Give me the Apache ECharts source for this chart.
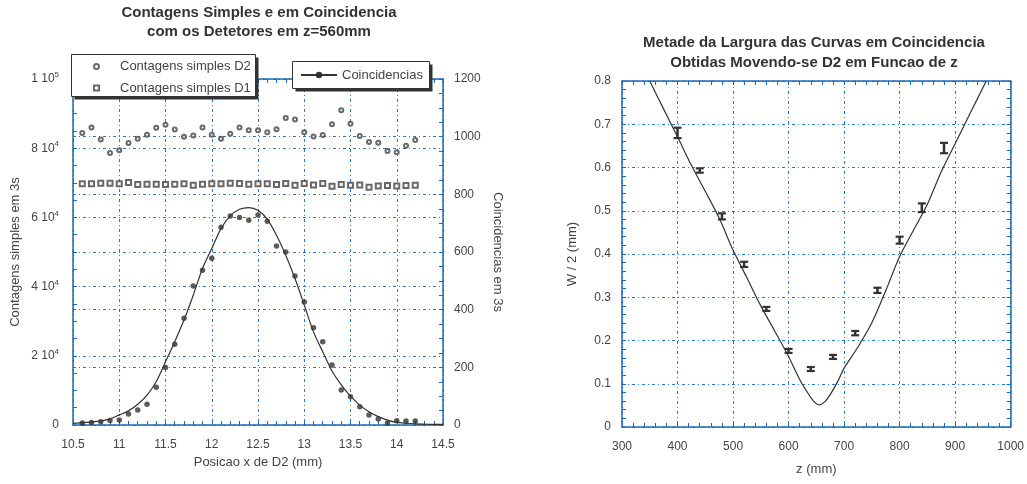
<!DOCTYPE html>
<html>
<head>
<meta charset="utf-8">
<script src="https://cdn.jsdelivr.net/npm/echarts@6/dist/echarts.min.js"></script>
<style>
  html, body { margin: 0; padding: 0; background: #fff; }
  #main { width: 1027px; height: 484px; }
</style>
</head>
<body>
<div id="main"></div>
<script>
// left chart: posicao x de D2 (mm)
var posX = [10.6, 10.7, 10.8, 10.9, 11.0, 11.1, 11.2, 11.3, 11.4, 11.5, 11.6, 11.7, 11.8,
  11.9, 12.0, 12.1, 12.2, 12.3, 12.4, 12.5, 12.6, 12.7, 12.8, 12.9, 13.0, 13.1, 13.2,
  13.3, 13.4, 13.5, 13.6, 13.7, 13.8, 13.9, 14.0, 14.1, 14.2];
var simplesD2 = [84400, 86000, 82500, 78600, 79400, 81500, 82700, 83900, 85900, 86800, 85400, 83300, 83700,
  86000, 83900, 82700, 84200, 86000, 85200, 85200, 84600, 85500, 88700, 88300, 84600, 83400, 83800,
  86900, 91000, 87100, 83500, 81800, 81600, 79200, 78800, 80700, 82400];
var simplesD1 = [69700, 69700, 69900, 69900, 69700, 70100, 69500, 69600, 69600, 69500, 69600, 69700, 69300,
  69600, 69700, 69700, 69900, 69800, 69600, 69700, 69700, 69500, 69800, 69300, 69800, 69400, 69800,
  69000, 69500, 69300, 69400, 68700, 69100, 69200, 69100, 69200, 69300];
var coincid = [7, 9, 11, 16, 17, 38, 52, 72, 131, 199, 280, 370, 482,
  537, 578, 686, 725, 720, 710, 728, 707, 621, 600, 517, 427, 337, 289,
  208, 121, 98, 63, 35, 21, 7, 15, 14, 14];
// curva ajustada
var ajusteX = [10.5, 10.6, 10.7, 10.8, 10.9, 11.0, 11.1, 11.2, 11.3, 11.4, 11.5, 11.6, 11.7, 11.8,
  11.9, 12.0, 12.1, 12.2, 12.3, 12.4, 12.5, 12.6, 12.7, 12.8, 12.9, 13.0, 13.1, 13.2, 13.3,
  13.4, 13.5, 13.6, 13.7, 13.8, 13.9, 14.0, 14.1, 14.2, 14.3, 14.4, 14.5];
var ajusteY = [5, 8, 10, 14, 21, 35, 49, 72, 104, 150, 219, 289, 364, 450,
  543, 612, 681, 725, 748, 754, 745, 714, 658, 589, 508, 416, 323, 254, 187,
  139, 100, 69, 46, 29, 17, 9, 6, 4, 3, 2, 2];

// right chart: metade da largura vs z
var zPos = [400, 440, 480, 520, 560, 600, 640, 680, 720, 760, 800, 840, 880];
var meiaLarg = [0.680, 0.593, 0.487, 0.376, 0.273, 0.176, 0.134, 0.162, 0.217, 0.316, 0.432, 0.507, 0.645];
var erro = [0.012, 0.005, 0.007, 0.006, 0.003, 0.003, 0.003, 0.003, 0.005, 0.006, 0.008, 0.010, 0.012];
var curvaZ = [350, 375, 400, 425, 450, 475, 500, 525, 550, 575, 600, 620, 635, 645, 655,
  665, 675, 690, 700, 725, 750, 775, 800, 825, 850, 875, 900, 925, 956];
var curvaW = [0.800, 0.735, 0.671, 0.605, 0.545, 0.483, 0.409, 0.345, 0.280, 0.222, 0.163, 0.110, 0.078, 0.060, 0.051,
  0.058, 0.075, 0.109, 0.136, 0.185, 0.241, 0.315, 0.394, 0.455, 0.515, 0.590, 0.655, 0.720, 0.800];

var FONT = 'Liberation Sans, Arial, sans-serif';
var AXIS = '#1e6ab0';
var GRID = '#2a78c0';
var TXT = '#444';
var INK = '#333';

function zip(a, b) {
  return a.map(function (v, i) { return [v, b[i]]; });
}

function semMilhar(v) { return String(v); }

var gridLine = { show: true, lineStyle: { color: GRID, width: 1, type: [3, 3, 1, 3] } };

function eixo(extra) {
  var base = {
    type: 'value',
    axisLine: { show: true, onZero: false, lineStyle: { color: AXIS, width: 1.5 } },
    axisTick: { show: true, inside: true, length: 4, lineStyle: { color: AXIS } },
    minorTick: { show: true, length: 4, lineStyle: { color: AXIS } },
    axisLabel: { color: TXT, fontSize: 12, fontFamily: FONT },
    splitLine: { show: false },
    nameTextStyle: { color: TXT, fontSize: 13, fontFamily: FONT }
  };
  return Object.assign(base, extra);
}

function potencia(v) {
  if (v === 0) return '0';
  var e = Math.floor(Math.log10(v) + 1e-9);
  var m = Math.round(v / Math.pow(10, e));
  return '{m|' + m + ' 10}{e|' + e + '}';
}

// caixas das legendas com sombra
function caixa(x, y, w, h) {
  return [
    { type: 'rect', z: 10, shape: { x: x + 3, y: y + 3, width: w, height: h }, style: { fill: INK } },
    { type: 'rect', z: 11, shape: { x: x, y: y, width: w, height: h }, style: { fill: '#fff', stroke: INK, lineWidth: 1 } }
  ];
}

var chart = echarts.init(document.getElementById('main'), null, { renderer: 'canvas' });

var option = {
  animation: false,
  backgroundColor: '#fff',
  title: [
    {
      text: 'Contagens Simples e em Coincidencia\ncom os Detetores em z=560mm',
      left: 259, top: 3, padding: 0, textAlign: 'center',
      textStyle: { color: INK, fontSize: 15, fontWeight: 'bold', fontFamily: FONT, lineHeight: 19 }
    },
    {
      text: 'Metade da Largura das Curvas em Coincidencia\nObtidas Movendo-se D2 em Funcao de z',
      left: 814, top: 33, padding: 0, textAlign: 'center',
      textStyle: { color: INK, fontSize: 15, fontWeight: 'bold', fontFamily: FONT, lineHeight: 20 }
    }
  ],
  graphic: caixa(71.5, 54.5, 184, 42).concat(caixa(292.5, 61.5, 137, 27)),
  legend: [
    {
      data: ['Contagens simples D2', 'Contagens simples D1'],
      orient: 'vertical', left: 93, top: 59, z: 20,
      itemWidth: 5, itemHeight: 5, itemGap: 6.6,
      padding: 0,
      textStyle: { color: TXT, fontSize: 13, fontFamily: FONT, lineHeight: 15, padding: [0, 0, 0, 16] }
    },
    {
      data: ['Coincidencias'],
      left: 300, top: 67.5, z: 20,
      itemWidth: 36, itemHeight: 8,
      padding: 0,
      textStyle: { color: TXT, fontSize: 13, fontFamily: FONT, lineHeight: 15 }
    }
  ],
  grid: [
    { left: 73, top: 79, width: 370, height: 346 },
    { left: 622, top: 81, width: 389, height: 346 }
  ],
  xAxis: [
    eixo({
      gridIndex: 0, position: 'bottom', min: 10.5, max: 14.5, interval: 0.5,
      minorTick: { show: true, splitNumber: 5, length: 4, lineStyle: { color: AXIS } },
      splitLine: gridLine,
      axisLabel: { color: TXT, fontSize: 12, fontFamily: FONT, margin: 14 },
      name: 'Posicao x de D2 (mm)', nameLocation: 'middle', nameGap: 31
    }),
    eixo({
      gridIndex: 0, position: 'top', min: 10.5, max: 14.5, interval: 0.5,
      minorTick: { show: true, splitNumber: 5, length: 4, lineStyle: { color: AXIS } },
      axisLabel: { show: false }
    }),
    eixo({
      gridIndex: 1, position: 'bottom', min: 300, max: 1000, interval: 100,
      minorTick: { show: true, splitNumber: 5, length: 4, lineStyle: { color: AXIS } },
      splitLine: gridLine,
      axisLabel: { color: TXT, fontSize: 12, fontFamily: FONT, margin: 14, formatter: semMilhar },
      name: 'z (mm)', nameLocation: 'middle', nameGap: 36
    }),
    eixo({
      gridIndex: 1, position: 'top', min: 300, max: 1000, interval: 100,
      minorTick: { show: true, splitNumber: 5, length: 4, lineStyle: { color: AXIS } },
      axisLabel: { show: false }
    })
  ],
  yAxis: [
    eixo({
      gridIndex: 0, position: 'left', min: 0, max: 100000, interval: 20000,
      minorTick: { show: true, splitNumber: 4, length: 4, lineStyle: { color: AXIS } },
      splitLine: gridLine,
      axisLabel: {
        color: TXT, fontSize: 12, fontFamily: FONT, margin: 14,
        formatter: potencia,
        rich: {
          m: { color: TXT, fontSize: 12, fontFamily: FONT },
          e: { color: TXT, fontSize: 8, fontFamily: FONT, padding: [0, 0, 8, 0] }
        }
      },
      name: 'Contagens simples em 3s', nameLocation: 'middle', nameGap: 51
    }),
    eixo({
      gridIndex: 0, position: 'right', min: 0, max: 1200, interval: 200,
      minorTick: { show: true, splitNumber: 4, length: 4, lineStyle: { color: AXIS } },
      splitLine: gridLine,
      axisLabel: { color: TXT, fontSize: 12, fontFamily: FONT, margin: 11, formatter: semMilhar },
      name: 'Coincidencias em 3s', nameLocation: 'middle', nameGap: 48, nameRotate: -90
    }),
    eixo({
      gridIndex: 1, position: 'left', min: 0, max: 0.8, interval: 0.1,
      minorTick: { show: true, splitNumber: 5, length: 4, lineStyle: { color: AXIS } },
      splitLine: gridLine,
      axisLabel: { color: TXT, fontSize: 12, fontFamily: FONT, margin: 11 },
      name: 'W / 2 (mm)', nameLocation: 'middle', nameGap: 43
    }),
    eixo({
      gridIndex: 1, position: 'right', min: 0, max: 0.8, interval: 0.1,
      minorTick: { show: true, splitNumber: 5, length: 4, lineStyle: { color: AXIS } },
      axisLabel: { show: false }
    })
  ],
  series: [
    {
      name: 'Contagens simples D2', type: 'scatter', xAxisIndex: 0, yAxisIndex: 0,
      symbol: 'emptyCircle', symbolSize: 4,
      itemStyle: { color: '#444', borderWidth: 0.8 },
      data: zip(posX, simplesD2)
    },
    {
      name: 'Contagens simples D1', type: 'scatter', xAxisIndex: 0, yAxisIndex: 0,
      symbol: 'emptyRect', symbolSize: 5,
      itemStyle: { color: '#444', borderWidth: 0.8 },
      data: zip(posX, simplesD1)
    },
    {
      name: 'Coincidencias', type: 'line', xAxisIndex: 0, yAxisIndex: 1,
      symbol: 'circle', symbolSize: 5, showSymbol: false, smooth: 0.3,
      itemStyle: { color: INK },
      lineStyle: { color: INK, width: 1.2 },
      data: zip(ajusteX, ajusteY)
    },
    {
      name: 'pontos', type: 'scatter', xAxisIndex: 0, yAxisIndex: 1,
      symbol: 'circle', symbolSize: 5.5,
      itemStyle: { color: INK },
      data: zip(posX, coincid)
    },
    {
      name: 'ajuste', type: 'line', xAxisIndex: 2, yAxisIndex: 2,
      symbol: 'none', smooth: 0.3,
      lineStyle: { color: INK, width: 1.2 },
      data: zip(curvaZ, curvaW)
    },
    {
      name: 'largura', type: 'custom', xAxisIndex: 2, yAxisIndex: 2,
      encode: { x: 0, y: 1 },
      data: zPos.map(function (z, i) { return [z, meiaLarg[i], erro[i]]; }),
      renderItem: function (params, api) {
        var z = api.value(0), w = api.value(1), e = api.value(2);
        var top = api.coord([z, w + e]);
        var bot = api.coord([z, w - e]);
        var c = api.coord([z, w]);
        var t = Math.min(top[1], c[1] - 2);
        var b = Math.max(bot[1], c[1] + 2);
        var hw = 4;
        var st = { stroke: INK, lineWidth: 2.2 };
        return {
          type: 'group',
          children: [
            { type: 'line', shape: { x1: c[0], y1: t, x2: c[0], y2: b }, style: { stroke: INK, lineWidth: 2.5 } },
            { type: 'line', shape: { x1: c[0] - hw, y1: t, x2: c[0] + hw, y2: t }, style: st },
            { type: 'line', shape: { x1: c[0] - hw, y1: b, x2: c[0] + hw, y2: b }, style: st }
          ]
        };
      }
    }
  ]
};

chart.setOption(option);
</script>
</body>
</html>
